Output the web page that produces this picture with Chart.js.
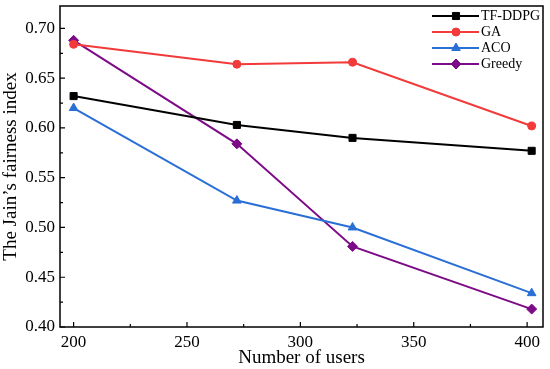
<!DOCTYPE html>
<html>
<head>
<meta charset="utf-8">
<script src="https://cdn.jsdelivr.net/npm/chart.js@4"></script>
<style>
  html, body { margin: 0; padding: 0; background: #fff; }
  #wrap { width: 550px; height: 369px; }
</style>
</head>
<body>
<div id="wrap"><canvas id="chart" width="550" height="369"></canvas></div>
<script>
// values
const users = [200, 272, 323, 402];
const tfddpg = [0.632, 0.603, 0.590, 0.577];
const ga = [0.684, 0.664, 0.666, 0.602];
const aco = [0.620, 0.527, 0.500, 0.434];
const greedy = [0.688, 0.584, 0.481, 0.418];
const xTicks = [200, 250, 300, 350, 400];
const yTicks = [0.40, 0.45, 0.50, 0.55, 0.60, 0.65, 0.70];

const serif = "'Liberation Serif', 'DejaVu Serif', serif";

function pts(ys) {
  return users.map((x, i) => ({ x: x, y: ys[i] }));
}

function series(label, ys, color, style, r) {
  return {
    label: label,
    data: pts(ys),
    borderColor: color,
    backgroundColor: color,
    borderWidth: 2,
    pointStyle: style,
    pointRadius: r,
    pointHoverRadius: r,
    pointBorderWidth: 1
  };
}

// frame, inward ticks and the line+marker legend
const decor = {
  id: 'decor',
  afterDraw(chart) {
    const ctx = chart.ctx;
    const a = chart.chartArea;
    const xs = chart.scales.x, ys = chart.scales.y;
    ctx.save();
    ctx.strokeStyle = '#000';
    ctx.lineWidth = 1.5;
    ctx.strokeRect(a.left, a.top, a.right - a.left, a.bottom - a.top);
    ctx.lineWidth = 1.2;
    ctx.beginPath();
    for (let v = 200; v <= 400; v += 25) {
      const px = xs.getPixelForValue(v);
      const len = v % 50 === 0 ? 5 : 3;
      ctx.moveTo(px, a.bottom);
      ctx.lineTo(px, a.bottom - len);
    }
    for (let k = 0; k <= 12; k++) {
      const v = 0.40 + k * 0.025;
      if (v > ys.max) break;
      const py = ys.getPixelForValue(v);
      const len = k % 2 === 0 ? 5 : 3;
      ctx.moveTo(a.left, py);
      ctx.lineTo(a.left + len, py);
    }
    ctx.stroke();

    // legend
    const x0 = 432, x1 = 479, mx = 456;
    const rowY = [16, 32, 48, 64];
    ctx.font = '14px ' + serif;
    ctx.textBaseline = 'middle';
    ctx.textAlign = 'left';
    chart.data.datasets.forEach((ds, i) => {
      const y = rowY[i];
      ctx.strokeStyle = ds.borderColor;
      ctx.lineWidth = 2;
      ctx.beginPath();
      ctx.moveTo(x0, y);
      ctx.lineTo(x1, y);
      ctx.stroke();
      ctx.fillStyle = ds.backgroundColor;
      ctx.lineWidth = 1;
      Chart.helpers.drawPoint(ctx, { pointStyle: ds.pointStyle, radius: ds.pointRadius, borderWidth: 1 }, mx, y);
      ctx.fillStyle = '#000';
      ctx.fillText(ds.label, x1 + 2, y);
    });
    ctx.restore();
  }
};

new Chart(document.getElementById('chart'), {
  type: 'line',
  data: {
    datasets: [
      series('TF-DDPG', tfddpg, '#000000', 'rect', 5),
      series('GA', ga, '#f23a3a', 'circle', 4),
      series('ACO', aco, '#2a6fd6', 'triangle', 5),
      series('Greedy', greedy, '#7d0a86', 'rectRot', 5)
    ]
  },
  options: {
    responsive: false,
    animation: false,
    layout: { padding: { top: 5, right: 7, left: 0, bottom: 0 } },
    plugins: { legend: { display: false }, tooltip: { enabled: false } },
    scales: {
      x: {
        type: 'linear',
        min: 194,
        max: 407,
        afterFit(s) { s.height = 42; s.paddingLeft = 0; s.paddingRight = 0; },
        afterBuildTicks(s) { s.ticks = xTicks.map(v => ({ value: v })); },
        grid: { display: false, drawTicks: false },
        border: { display: false },
        ticks: {
          color: '#000',
          padding: 5,
          font: { family: serif, size: 17 },
          maxRotation: 0,
          callback: v => String(v)
        },
        title: {
          display: true,
          text: 'Number of users',
          color: '#000',
          padding: { top: 0, bottom: 0 },
          font: { family: serif, size: 19 }
        }
      },
      y: {
        min: 0.40,
        max: 0.7225,
        afterFit(s) { s.width = 60; s.paddingTop = 0; s.paddingBottom = 0; },
        afterBuildTicks(s) { s.ticks = yTicks.map(v => ({ value: v })); },
        grid: { display: false, drawTicks: false },
        border: { display: false },
        ticks: {
          color: '#000',
          padding: 5,
          font: { family: serif, size: 17 },
          callback: v => v.toFixed(2)
        },
        title: {
          display: true,
          text: 'The Jain\u2019s fairness index',
          color: '#000',
          padding: { top: 0, bottom: 0 },
          font: { family: serif, size: 19 }
        }
      }
    }
  },
  plugins: [decor]
});
</script>
</body>
</html>
